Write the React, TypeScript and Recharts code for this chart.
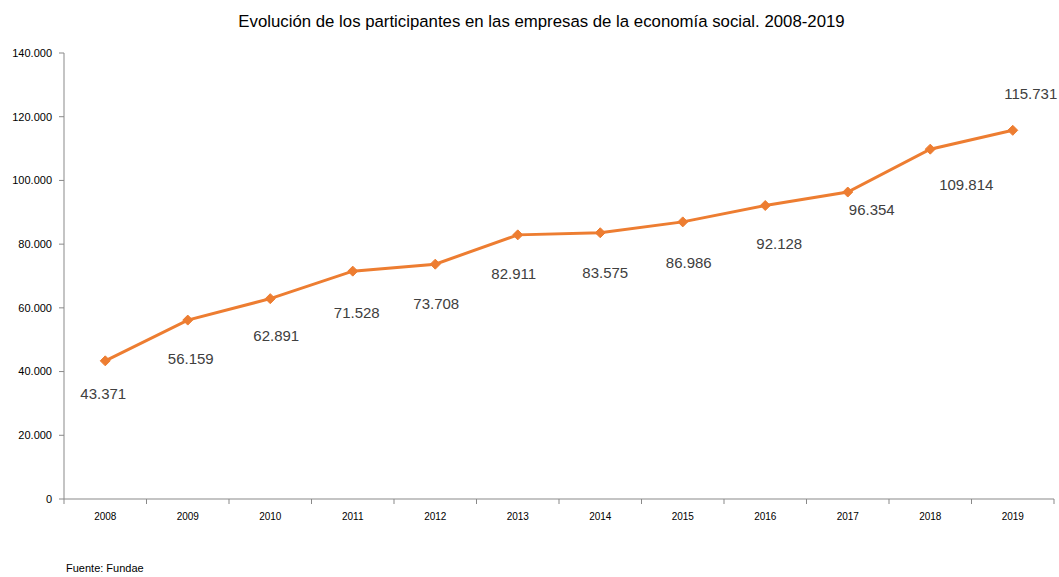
import { LineChart, Line, XAxis, YAxis, LabelList } from 'recharts'

const years = ['2008', '2009', '2010', '2011', '2012', '2013', '2014', '2015', '2016', '2017', '2018', '2019']
const participants = [43371, 56159, 62891, 71528, 73708, 82911, 83575, 86986, 92128, 96354, 109814, 115731]
const yTicks = [0, 20000, 40000, 60000, 80000, 100000, 120000, 140000]

// where each value label sits relative to its point (dx, dy in px), as placed in the original
const labelDx = [-2, 3, 6, 4, 1, -4, 5, 6, 14, 24, 36, 18]
const labelDy = [33, 38, 37, 41, 39, 39, 40, 41, 38, 17, 35, -37]

const data = years.map((year, i) => ({ year, value: participants[i] }))

const W = 1059
const H = 577
const margin = { top: 53, right: 5, left: 0, bottom: 48 }
const yAxisWidth = 64
const plotWidth = W - margin.left - margin.right - yAxisWidth
const band = plotWidth / years.length

const ORANGE = '#ED7D31'
const AXIS = '#898989'
const FONT = '"Liberation Sans", Arial, sans-serif'

const fmt = (v: number) => (v === 0 ? '0' : v.toLocaleString('de-DE'))

function XTick(props: any) {
  const { x, y, payload, index } = props
  return (
    <g>
      <line x1={x - band / 2} x2={x - band / 2} y1={y} y2={y + 5} stroke={AXIS} />
      {index === years.length - 1 && (
        <line x1={x + band / 2} x2={x + band / 2} y1={y} y2={y + 5} stroke={AXIS} />
      )}
      <text x={x} y={y + 21} textAnchor="middle" fontSize={10} fill="#000" fontFamily={FONT}>
        {payload.value}
      </text>
    </g>
  )
}

function Diamond(props: any) {
  const { cx, cy } = props
  if (cx == null || cy == null) return null
  const r = 5
  return (
    <polygon
      points={`${cx},${cy - r} ${cx + r},${cy} ${cx},${cy + r} ${cx - r},${cy}`}
      fill={ORANGE}
      stroke={ORANGE}
    />
  )
}

function ValueLabel(props: any) {
  const { x, y, value, index } = props
  return (
    <text
      x={x + labelDx[index]}
      y={y + labelDy[index]}
      textAnchor="middle"
      dominantBaseline="central"
      fontSize={15}
      fill="#404040"
      fontFamily={FONT}
    >
      {fmt(value)}
    </text>
  )
}

export default function App() {
  return (
    <div style={{ position: 'absolute', left: 0, top: 0, width: W, height: H, background: '#fff', fontFamily: FONT }}>
      <div
        style={{
          position: 'absolute',
          top: 12,
          left: 12,
          width: W,
          textAlign: 'center',
          fontSize: 16.8,
          color: '#000',
        }}
      >
        Evolución de los participantes en las empresas de la economía social. 2008-2019
      </div>
      <LineChart width={W} height={H} data={data} margin={margin}>
        <XAxis
          dataKey="year"
          stroke={AXIS}
          tickLine={false}
          tickSize={0}
          tickMargin={0}
          height={30}
          tick={<XTick />}
          interval={0}
          padding={{ left: band / 2, right: band / 2 }}
        />
        <YAxis
          domain={[0, 140000]}
          ticks={yTicks}
          width={yAxisWidth}
          stroke={AXIS}
          tickSize={5}
          tickMargin={7}
          tickFormatter={fmt}
          tick={{ fontSize: 11, fill: '#000', fontFamily: FONT }}
          interval={0}
        />
        <Line
          dataKey="value"
          stroke={ORANGE}
          strokeWidth={3}
          dot={<Diamond />}
          activeDot={false}
          isAnimationActive={false}
        >
          <LabelList dataKey="value" content={<ValueLabel />} />
        </Line>
      </LineChart>
      <div style={{ position: 'absolute', left: 66, top: 562, fontSize: 11, color: '#000' }}>Fuente: Fundae</div>
    </div>
  )
}
